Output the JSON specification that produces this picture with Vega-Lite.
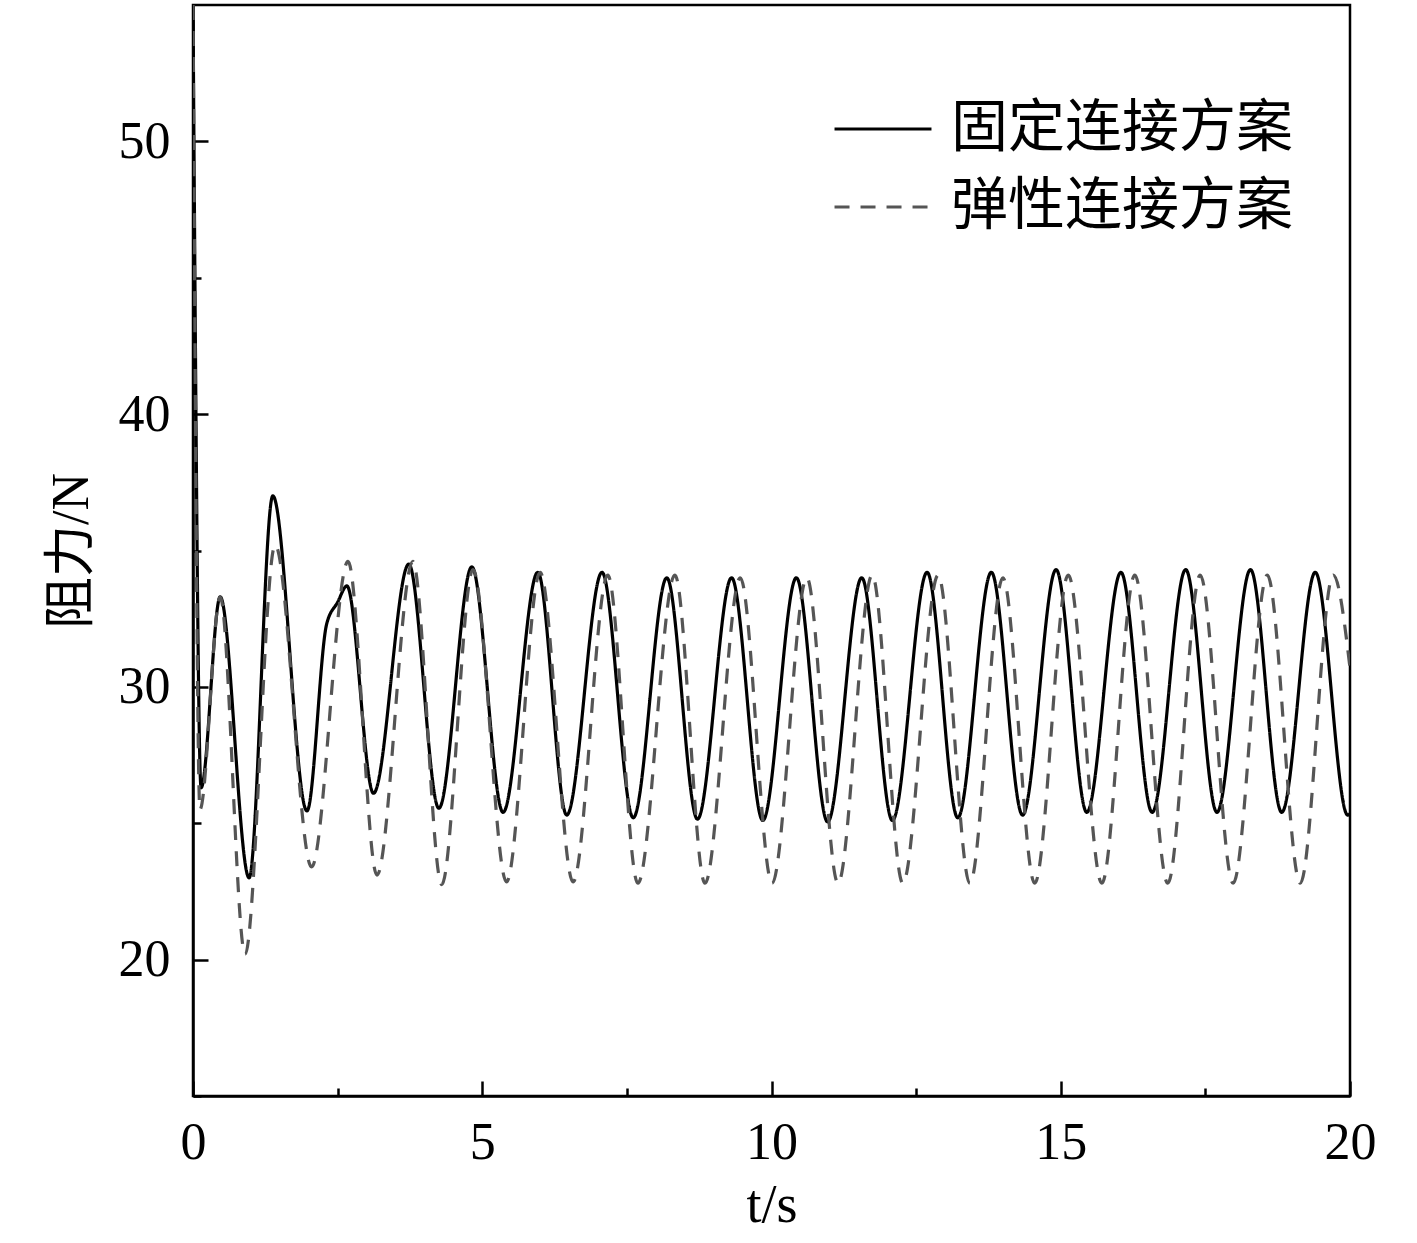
{
  "$schema": "https://vega.github.io/schema/vega-lite/v6.json",
  "autosize": {"type": "none"},
  "padding": {"left": 193, "top": 5, "right": 67, "bottom": 147},
  "width": 1157,
  "height": 1091,
  "background": "white",
  "config": {
    "view": {"stroke": "black", "strokeWidth": 2.5},
    "font": "Liberation Serif"
  },
  "data": {
    "values": [
      {"t": 0, "F": 55, "s": "固定连接方案"},
      {"t": 0.14, "F": 26.3, "s": "固定连接方案"},
      {"t": 0.47, "F": 33.3, "s": "固定连接方案"},
      {"t": 0.97, "F": 23.0, "s": "固定连接方案"},
      {"t": 1.38, "F": 37.0, "s": "固定连接方案"},
      {"t": 1.97, "F": 25.45, "s": "固定连接方案"},
      {"t": 2.31, "F": 32.3, "s": "固定连接方案"},
      {"t": 2.5, "F": 33.1, "s": "固定连接方案"},
      {"t": 2.66, "F": 33.7, "s": "固定连接方案"},
      {"t": 3.12, "F": 26.1, "s": "固定连接方案"},
      {"t": 3.73, "F": 34.5, "s": "固定连接方案"},
      {"t": 4.25, "F": 25.55, "s": "固定连接方案"},
      {"t": 4.82, "F": 34.4, "s": "固定连接方案"},
      {"t": 5.36, "F": 25.4, "s": "固定连接方案"},
      {"t": 5.96, "F": 34.2, "s": "固定连接方案"},
      {"t": 6.46, "F": 25.3, "s": "固定连接方案"},
      {"t": 7.07, "F": 34.2, "s": "固定连接方案"},
      {"t": 7.61, "F": 25.2, "s": "固定连接方案"},
      {"t": 8.19, "F": 34.0, "s": "固定连接方案"},
      {"t": 8.72, "F": 25.15, "s": "固定连接方案"},
      {"t": 9.31, "F": 34.0, "s": "固定连接方案"},
      {"t": 9.85, "F": 25.1, "s": "固定连接方案"},
      {"t": 10.43, "F": 34.0, "s": "固定连接方案"},
      {"t": 10.97, "F": 25.05, "s": "固定连接方案"},
      {"t": 11.56, "F": 34.0, "s": "固定连接方案"},
      {"t": 12.09, "F": 25.1, "s": "固定连接方案"},
      {"t": 12.69, "F": 34.2, "s": "固定连接方案"},
      {"t": 13.22, "F": 25.2, "s": "固定连接方案"},
      {"t": 13.8, "F": 34.2, "s": "固定连接方案"},
      {"t": 14.34, "F": 25.3, "s": "固定连接方案"},
      {"t": 14.92, "F": 34.3, "s": "固定连接方案"},
      {"t": 15.45, "F": 25.4, "s": "固定连接方案"},
      {"t": 16.04, "F": 34.2, "s": "固定连接方案"},
      {"t": 16.58, "F": 25.4, "s": "固定连接方案"},
      {"t": 17.16, "F": 34.3, "s": "固定连接方案"},
      {"t": 17.7, "F": 25.4, "s": "固定连接方案"},
      {"t": 18.28, "F": 34.3, "s": "固定连接方案"},
      {"t": 18.82, "F": 25.4, "s": "固定连接方案"},
      {"t": 19.4, "F": 34.2, "s": "固定连接方案"},
      {"t": 19.96, "F": 25.3, "s": "固定连接方案"},
      {"t": 20, "F": 25.35, "s": "固定连接方案"},
      {"t": 0, "F": 55, "s": "弹性连接方案"},
      {"t": 0.12, "F": 25.5, "s": "弹性连接方案"},
      {"t": 0.47, "F": 33.3, "s": "弹性连接方案"},
      {"t": 0.9, "F": 20.2, "s": "弹性连接方案"},
      {"t": 1.42, "F": 35.2, "s": "弹性连接方案"},
      {"t": 2.05, "F": 23.4, "s": "弹性连接方案"},
      {"t": 2.68, "F": 34.6, "s": "弹性连接方案"},
      {"t": 3.18, "F": 23.1, "s": "弹性连接方案"},
      {"t": 3.8, "F": 34.6, "s": "弹性连接方案"},
      {"t": 4.3, "F": 22.75, "s": "弹性连接方案"},
      {"t": 4.84, "F": 34.3, "s": "弹性连接方案"},
      {"t": 5.42, "F": 22.85, "s": "弹性连接方案"},
      {"t": 6.0, "F": 34.2, "s": "弹性连接方案"},
      {"t": 6.57, "F": 22.85, "s": "弹性连接方案"},
      {"t": 7.17, "F": 34.1, "s": "弹性连接方案"},
      {"t": 7.69, "F": 22.8, "s": "弹性连接方案"},
      {"t": 8.33, "F": 34.1, "s": "弹性连接方案"},
      {"t": 8.85, "F": 22.8, "s": "弹性连接方案"},
      {"t": 9.46, "F": 34.0, "s": "弹性连接方案"},
      {"t": 10.01, "F": 22.8, "s": "弹性连接方案"},
      {"t": 10.61, "F": 34.0, "s": "弹性连接方案"},
      {"t": 11.15, "F": 22.8, "s": "弹性连接方案"},
      {"t": 11.74, "F": 34.1, "s": "弹性连接方案"},
      {"t": 12.27, "F": 22.8, "s": "弹性连接方案"},
      {"t": 12.88, "F": 34.1, "s": "弹性连接方案"},
      {"t": 13.43, "F": 22.8, "s": "弹性连接方案"},
      {"t": 14.0, "F": 34.0, "s": "弹性连接方案"},
      {"t": 14.55, "F": 22.8, "s": "弹性连接方案"},
      {"t": 15.13, "F": 34.1, "s": "弹性连接方案"},
      {"t": 15.71, "F": 22.8, "s": "弹性连接方案"},
      {"t": 16.28, "F": 34.1, "s": "弹性连接方案"},
      {"t": 16.85, "F": 22.8, "s": "弹性连接方案"},
      {"t": 17.41, "F": 34.1, "s": "弹性连接方案"},
      {"t": 17.98, "F": 22.8, "s": "弹性连接方案"},
      {"t": 18.57, "F": 34.1, "s": "弹性连接方案"},
      {"t": 19.14, "F": 22.8, "s": "弹性连接方案"},
      {"t": 19.71, "F": 34.1, "s": "弹性连接方案"},
      {"t": 20, "F": 30.7, "s": "弹性连接方案"}
    ]
  },
  "mark": {"type": "line", "interpolate": "monotone", "strokeWidth": 3.2, "clip": true},
  "encoding": {
    "x": {
      "field": "t", "type": "quantitative",
      "scale": {"domain": [0, 20], "nice": false, "zero": false},
      "axis": {
        "title": "t/s",
        "values": [0, 2.5, 5, 7.5, 10, 12.5, 15, 17.5, 20],
        "labelExpr": "datum.value % 5 === 0 ? datum.label : ''",
        "grid": false,
        "domainColor": "black", "domainWidth": 2.5,
        "tickColor": "black", "tickWidth": 2.5,
        "tickSize": {"condition": {"test": "datum.value % 5 === 0", "value": -15}, "value": -8},
        "labelFont": "Liberation Serif", "labelFontSize": 52, "labelColor": "black",
        "labelPadding": 36, "labelFlush": false,
        "titleFont": "Liberation Serif", "titleFontSize": 54, "titleFontWeight": "normal", "titleColor": "black",
        "titlePadding": 10
      }
    },
    "y": {
      "field": "F", "type": "quantitative",
      "scale": {"domain": [15, 55], "nice": false, "zero": false},
      "axis": {
        "title": "阻力/N",
        "values": [15, 20, 25, 30, 35, 40, 45, 50],
        "labelExpr": "datum.value % 10 === 0 ? datum.label : ''",
        "grid": false,
        "domainColor": "black", "domainWidth": 2.5,
        "tickColor": "black", "tickWidth": 2.5,
        "tickSize": {"condition": {"test": "datum.value % 10 === 0", "value": -15}, "value": -8},
        "labelFont": "Liberation Serif", "labelFontSize": 52, "labelColor": "black",
        "labelPadding": 38, "labelFlush": false,
        "titleFont": "Liberation Serif, Noto Sans CJK SC", "titleFontSize": 52, "titleFontWeight": "normal", "titleColor": "black",
        "titlePadding": 20
      }
    },
    "color": {
      "field": "s", "type": "nominal",
      "scale": {"domain": ["固定连接方案", "弹性连接方案"], "range": ["#000000", "#555555"]},
      "legend": {
        "title": null,
        "orient": "none",
        "legendX": 640,
        "legendY": 74,
        "symbolType": "stroke",
        "symbolSize": 9400,
        "symbolStrokeWidth": 3,
        "labelFont": "Liberation Serif, Noto Sans CJK SC",
        "labelFontSize": 57,
        "labelColor": "black",
        "labelLimit": 1000,
        "labelOffset": 18,
        "rowPadding": 0
      }
    },
    "strokeDash": {
      "field": "s", "type": "nominal",
      "scale": {"domain": ["固定连接方案", "弹性连接方案"], "range": [[1, 0], [15, 11]]},
      "legend": {
        "title": null,
        "orient": "none",
        "legendX": 640,
        "legendY": 74,
        "symbolType": "stroke",
        "symbolSize": 9400,
        "symbolStrokeWidth": 3,
        "labelFont": "Liberation Serif, Noto Sans CJK SC",
        "labelFontSize": 57,
        "labelColor": "black",
        "labelLimit": 1000,
        "labelOffset": 18,
        "rowPadding": 0
      }
    }
  }
}
